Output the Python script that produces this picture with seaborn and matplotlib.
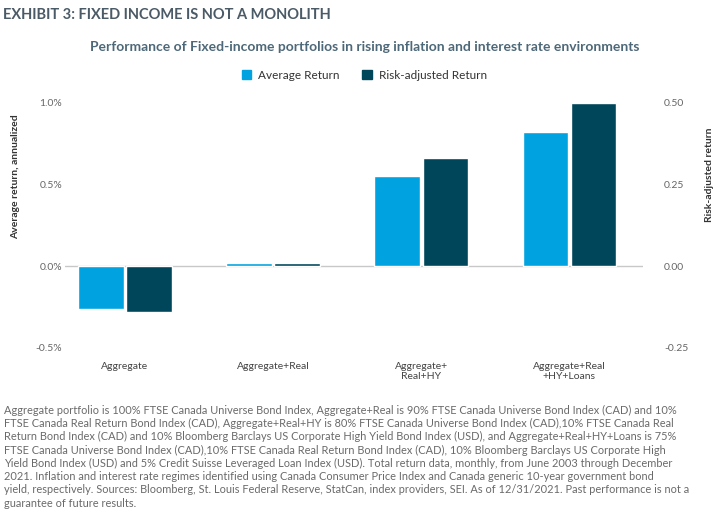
import numpy as np
import pandas as pd
import matplotlib
matplotlib.use("Agg")
import matplotlib.pyplot as plt
import seaborn as sns

portfolios = ["Aggregate", "Aggregate+Real", "Aggregate+\nReal+HY", "Aggregate+Real\n+HY+Loans"]
avg_return = [-0.26, 0.02, 0.55, 0.82]        # %, left axis
risk_adj_return = [-0.14, 0.01, 0.33, 0.50]   # right axis
series = ["Average Return", "Risk-adjusted Return"]
colors = ["#00A3E0", "#00465A"]
left_ticks = [-0.5, 0.0, 0.5, 1.0]
left_ticklabels = ["-0.5%", "0.0%", "0.5%", "1.0%"]
right_ticks = [-0.25, 0.0, 0.25, 0.50]
right_ticklabels = ["-0.25", "0.00", "0.25", "0.50"]

footnote = (
    "Aggregate portfolio is 100% FTSE Canada Universe Bond Index, Aggregate+Real is 90% FTSE Canada Universe Bond Index (CAD) and 10%\n"
    "FTSE Canada Real Return Bond Index (CAD), Aggregate+Real+HY is 80% FTSE Canada Universe Bond Index (CAD),10% FTSE Canada Real\n"
    "Return Bond Index (CAD) and 10% Bloomberg Barclays US Corporate High Yield Bond Index (USD), and Aggregate+Real+HY+Loans is 75%\n"
    "FTSE Canada Universe Bond Index (CAD),10% FTSE Canada Real Return Bond Index (CAD), 10% Bloomberg Barclays US Corporate High\n"
    "Yield Bond Index (USD) and 5% Credit Suisse Leveraged Loan Index (USD). Total return data, monthly, from June 2003 through December\n"
    "2021. Inflation and interest rate regimes identified using Canada Consumer Price Index and Canada generic 10-year government bond\n"
    "yield, respectively. Sources: Bloomberg, St. Louis Federal Reserve, StatCan, index providers, SEI. As of 12/31/2021. Past performance is not a\n"
    "guarantee of future results."
)

sns.set_theme(style="white")
plt.rcParams["font.family"] = ["Lato", "DejaVu Sans"]

# right axis is half the left axis (0.50 lines up with 1.0%)
to_right = lambda y: y / 2
to_left = lambda y: y * 2

df = pd.DataFrame({
    "portfolio": portfolios * 2,
    "series": [series[0]] * 4 + [series[1]] * 4,
    "value": avg_return + [to_left(v) for v in risk_adj_return],
})

fig = plt.figure(figsize=(7.26, 5.2), dpi=100)
ax = fig.add_axes([0.0895, 0.331, 0.7965, 0.471])

sns.barplot(data=df, x="portfolio", y="value", hue="series", hue_order=series,
            palette=colors, width=0.65, gap=0.06, ax=ax, legend=False, saturation=1)

ax.set_ylim(-0.5, 1.0)
ax.set_xlim(-0.405, 3.5)
ax.axhline(0, color="#c8c8c8", lw=1, zorder=0)
for s in ax.spines.values():
    s.set_visible(False)

ax.set_yticks(left_ticks)
ax.set_yticklabels(left_ticklabels)
ax.tick_params(axis="y", length=0, labelsize=7.5, labelcolor="#666666", pad=2)
ax.tick_params(axis="x", length=0, labelsize=7.5, labelcolor="#444444", pad=10)
ax.set_xlabel("")
ax.set_ylabel("Average return, annualized", fontsize=7.5, fontweight="bold", color="#333333")
ax.yaxis.set_label_coords(-0.078, 0.70)

sec = ax.secondary_yaxis("right", functions=(to_right, to_left))
sec.set_yticks(right_ticks)
sec.set_yticklabels(right_ticklabels)
sec.tick_params(length=0, labelsize=7.5, labelcolor="#666666", pad=15)
sec.spines["right"].set_visible(False)
fig.text(710 / 726, 1 - 175 / 520, "Risk-adjusted return", rotation=90, fontsize=7.5,
         fontweight="bold", color="#333333", ha="center", va="center")

# legend
handles = [plt.Rectangle((0, 0), 1, 1, color=c) for c in colors]
fig.legend(handles, series, loc="center", bbox_to_anchor=(0.502, 0.855), ncol=2, frameon=False,
           fontsize=8.5, handlelength=0.8, handleheight=0.8, columnspacing=1.9, handletextpad=0.6,
           labelcolor="#333333")

fig.text(0.004, 0.971, "EXHIBIT 3: FIXED INCOME IS NOT A MONOLITH", fontsize=10.5,
         fontweight="bold", color="#4a5a66", va="center", ha="left")
fig.text(0.502, 0.909, "Performance of Fixed-income portfolios in rising inflation and interest rate environments",
         fontsize=10, fontweight="bold", color="#4d6878", va="center", ha="center")
fig.text(0.006, 0.222, footnote, fontsize=7.9, color="#6a6a6a", va="top", ha="left", linespacing=1.25)

fig.savefig("out.png", dpi=100)
